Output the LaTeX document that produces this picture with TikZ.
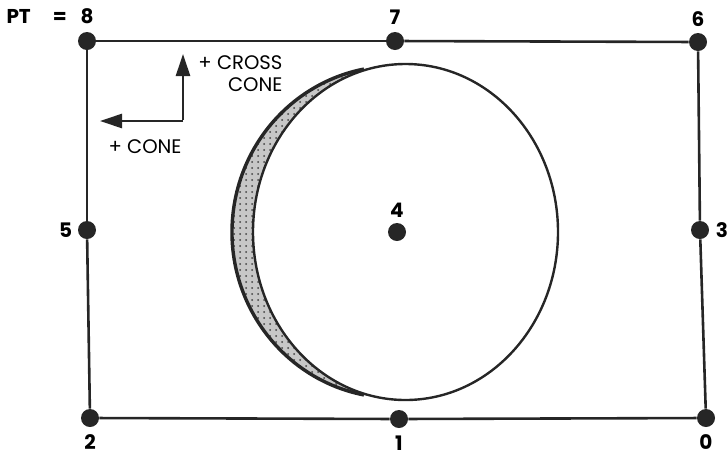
\documentclass[tikz,border=0pt]{standalone}
\usepackage{fontspec}
\setmainfont{Poppins}
\usepackage{tikz}
\usetikzlibrary{arrows.meta,positioning,patterns}
\tikzset{
  ptdot/.style={circle, fill=black!85, draw=none, inner sep=0pt, minimum size=9pt},
  numlbl/.style={inner sep=1.5pt, font=\fontsize{10}{12}\selectfont\bfseries},
  dirlbl/.style={inner sep=0pt, align=right, font=\fontsize{9.8}{11}\selectfont},
  frame/.style={line width=1.3pt, black!85},
  rim/.style={line width=1.2pt, black!85},
  axarrow/.style={-{Triangle[length=11pt,width=7pt]}, line width=1.3pt, black!85},
}

\begin{document}
\begin{tikzpicture}[x=0.5pt, y=-0.5pt]
  \useasboundingbox (0,0) rectangle (728,456);
  % shaded crescent on the left of the target
  \begin{scope}
    \clip (200,40) rectangle (400,420);
    \clip (395,232) ellipse [x radius=163, y radius=166];
    \fill[black!22, even odd rule] (150,0) rectangle (700,456)
      (405.5,232) ellipse [x radius=152.5, y radius=168];
    \fill[pattern=dots, pattern color=black!75, even odd rule] (150,0) rectangle (700,456)
      (405.5,232) ellipse [x radius=152.5, y radius=168];
  \end{scope}
  \draw[rim, line width=1.7pt] (395,232) ++(101:163 and 166)
    arc[start angle=101, end angle=259, x radius=163, y radius=166];
  \draw[rim] (405.5,232) ellipse [x radius=152.5, y radius=168];

  % measuring points
  \node[ptdot] (p8) at (87,41) {};
  \node[ptdot] (p7) at (395,41) {};
  \node[ptdot] (p6) at (698,42) {};
  \node[ptdot] (p5) at (87,230) {};
  \node[ptdot] (p4) at (397,232) {};
  \node[ptdot] (p3) at (700,230) {};
  \node[ptdot] (p2) at (90,418) {};
  \node[ptdot] (p1) at (399,419) {};
  \node[ptdot] (p0) at (706,418) {};
  \draw[frame] (p8)--(p7); \draw[frame] (p7)--(p6); \draw[frame] (p6)--(p3); \draw[frame] (p3)--(p0);
  \draw[frame] (p0)--(p1); \draw[frame] (p1)--(p2); \draw[frame] (p2)--(p5); \draw[frame] (p5)--(p8);

  \node[numlbl, above=2pt of p8] (l8) {8};
  \node[numlbl, above=2pt of p7] (l7) {7};
  \node[numlbl, above=1.5pt of p6] (l6) {6};
  \node[numlbl, left=1pt of p5] (l5) {5};
  \node[numlbl, above=1pt of p4] (l4) {4};
  \node[numlbl, right=1.5pt of p3] (l3) {3};
  \node[numlbl, below=2pt of p2] (l2) {2};
  \node[numlbl, below=2pt of p1] (l1) {1};
  \node[numlbl, below=2pt of p0] (l0) {0};
  \node[numlbl, left=3.5pt of l8] (ptl) {PT\hspace{1.1em}=};

  % direction axes
  \coordinate (axc) at (183,121);
  \coordinate (axup) at (183,54);
  \coordinate (axleft) at (100,121);
  \draw[axarrow] ([yshift=0.65pt]axc) -- (axup);
  \draw[axarrow] (axc) -- (axleft);
  \node[dirlbl, anchor=north west] (crossl) at (198,55) {+ CROSS\\CONE};
  \node[dirlbl] (conel) at (145,147) {+ CONE};
\end{tikzpicture}
\end{document}
